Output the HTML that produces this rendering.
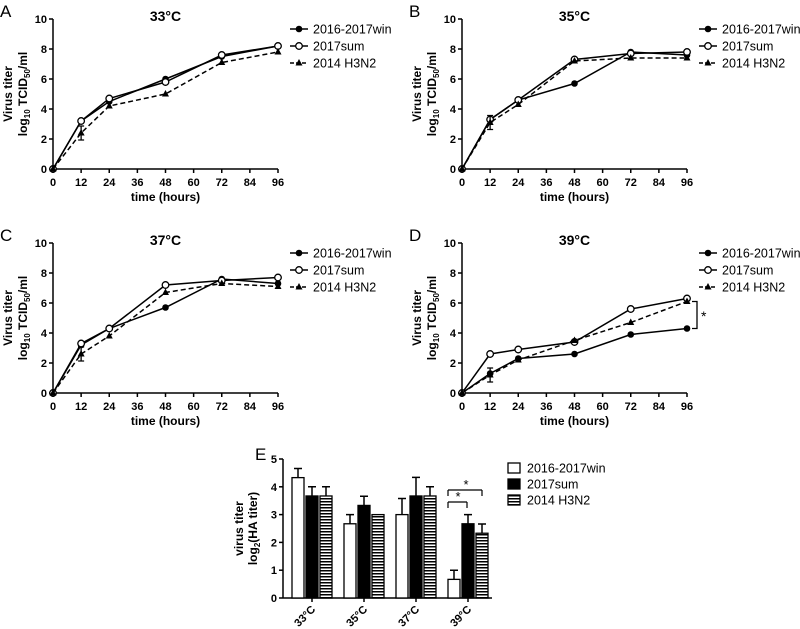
<!DOCTYPE html>
<html><head><meta charset="utf-8"><style>
body{margin:0;background:#fff;}
svg{display:block;font-family:"Liberation Sans",Arial,sans-serif;}
</style></head><body>
<svg id="s" width="800" height="629" viewBox="0 0 800 629"></svg>
<script>
const hours=[0,12,24,48,72,96];
const xTicks=[0,12,24,36,48,60,72,84,96];
const yTicks=[0,2,4,6,8,10];
const seriesNames=["2016-2017win","2017sum","2014 H3N2"];
const aWin=[0,3.2,4.5,6.0,7.5,8.2];
const aSum=[0,3.2,4.7,5.8,7.6,8.2];
const aH3=[0,2.4,4.2,5.0,7.1,7.8];
const bWin=[0,3.3,4.6,5.7,7.8,7.6];
const bSum=[0,3.3,4.6,7.3,7.7,7.8];
const bH3=[0,3.1,4.3,7.2,7.4,7.4];
const cWin=[0,3.2,4.3,5.7,7.6,7.3];
const cSum=[0,3.3,4.3,7.2,7.5,7.7];
const cH3=[0,2.6,3.8,6.7,7.3,7.1];
const dWin=[0,1.3,2.3,2.6,3.9,4.3];
const dSum=[0,2.6,2.9,3.4,5.6,6.3];
const dH3=[0,1.2,2.2,3.5,4.7,6.1];
const eCats=["33°C","35°C","37°C","39°C"];
const eWin=[4.33,2.67,3.0,0.67];
const eSum=[3.67,3.33,3.67,2.67];
const eH3=[3.67,3.0,3.67,2.33];
const eWinErr=[0.33,0.33,0.58,0.33];
const eSumErr=[0.33,0.33,0.67,0.33];
const eH3Err=[0.33,0,0.33,0.33];
const eTicks=[0,1,2,3,4,5];

const S=document.getElementById('s');
const NS="http://www.w3.org/2000/svg";
function el(t,a,p){const e=document.createElementNS(NS,t);for(const k in a)e.setAttribute(k,a[k]);(p||S).appendChild(e);return e;}
function tx(x,y,s,a,p){const e=el('text',Object.assign({x:x,y:y},a),p);e.textContent=s;return e;}
defs=el('defs',{});
const pat=el('pattern',{id:'hs',width:4,height:3,patternUnits:'userSpaceOnUse'},defs);
el('rect',{width:4,height:3,fill:'#fff'},pat);el('rect',{width:4,height:1.5,fill:'#000'},pat);

function panel(ox,oy,letter,title,w,s,h,sig){
 const g=el('g',{});
 
 
 const x0=ox,x1=ox+225,y0=oy+150,y1=oy;
 const X=v=>x0+(v/96)*(x1-x0), Y=v=>y0-(v/10)*(y0-y1);
 const L=tx(ox-53,oy-2,letter,{'font-size':17},g);
 const T=tx((x0+x1)/2,oy+2,title,{'font-size':14,'font-weight':'bold','text-anchor':'middle'},g);
 el('line',{x1:x0,y1:y1,x2:x0,y2:y0,stroke:'#000','stroke-width':1.5},g);
 el('line',{x1:x0,y1:y0,x2:x1,y2:y0,stroke:'#000','stroke-width':1.5},g);
 yTicks.forEach(v=>{el('line',{x1:x0-4,y1:Y(v),x2:x0,y2:Y(v),stroke:'#000','stroke-width':1.5},g);
  const t=tx(x0-6,Y(v)+4,v,{'font-size':11,'font-weight':'bold','text-anchor':'end'},g);});
 xTicks.forEach(v=>{el('line',{x1:X(v),y1:y0,x2:X(v),y2:y0+4,stroke:'#000','stroke-width':1.5},g);
  const t=tx(X(v),y0+17,v,{'font-size':11,'font-weight':'bold','text-anchor':'middle'},g);});
 const xt=tx((x0+x1)/2,y0+32,'time (hours)',{'font-size':12,'font-weight':'bold','text-anchor':'middle'},g);
 const yt=el('text',{transform:`translate(${ox-41},${oy+75}) rotate(-90)`,'font-size':12,'font-weight':'bold','text-anchor':'middle'},g);
 yt.innerHTML='<tspan x="0" y="0">Virus titer</tspan><tspan x="0" y="15">log<tspan font-size="8" dy="3">10</tspan><tspan dy="-3"> TCID</tspan><tspan font-size="8" dy="3">50</tspan><tspan dy="-3">/ml</tspan></tspan>';
 
 const data=[w,s,h];
 data.forEach((d,i)=>{
  const pts=d.map((v,j)=>X(hours[j])+','+Y(v)).join(' ');
  const pl=el('polyline',{points:pts,fill:'none',stroke:'#000','stroke-width':1.5,'stroke-dasharray':i==2?'5,3':'none'},g);
  
  d.forEach((v,j)=>{let m;
   if(i==0)m=el('circle',{cx:X(hours[j]),cy:Y(v),r:3.3,fill:'#000'},g);
   else if(i==1)m=el('circle',{cx:X(hours[j]),cy:Y(v),r:3.3,fill:'#fff',stroke:'#000','stroke-width':1.3},g);
   else{const cx=X(hours[j]),cy=Y(v);m=el('polygon',{points:`${cx},${cy-4} ${cx-3.5},${cy+2.5} ${cx+3.5},${cy+2.5}`,fill:'#000'},g);}
   });
 });
 const ex=X(12),ey=Y(h[1]);
 el('path',{d:`M${ex-3},${ey-7}H${ex+3}M${ex},${ey-7}V${ey+7}M${ex-3},${ey+7}H${ex+3}`,stroke:'#000','stroke-width':1.3,fill:'none'},g);
 seriesNames.forEach((n,i)=>{const ly=oy+10+i*17,lx=x1+21;
  const lg=el('g',{},g);
  el('line',{x1:lx-9,y1:ly,x2:lx+9,y2:ly,stroke:'#000','stroke-width':1.5,'stroke-dasharray':i==2?'4,2':'none'},lg);
  if(i==0)el('circle',{cx:lx,cy:ly,r:3.3,fill:'#000'},lg);
  else if(i==1)el('circle',{cx:lx,cy:ly,r:3.3,fill:'#fff',stroke:'#000','stroke-width':1.3},lg);
  else el('polygon',{points:`${lx},${ly-4} ${lx-3.5},${ly+2.5} ${lx+3.5},${ly+2.5}`,fill:'#000'},lg);
  tx(lx+14,ly+4.5,n,{'font-size':12.5},lg);});
 if(sig){const sx=x1+10,ya=Y(sig[0]),yb=Y(sig[1]);
  el('path',{d:`M${sx-5},${ya}H${sx}V${yb}H${sx-5}`,stroke:'#000','stroke-width':1.3,fill:'none'},g);
  tx(sx+4,(ya+yb)/2+6,'*',{'font-size':14},g);}
}
panel(53,19,'A','33°C',aWin,aSum,aH3);
panel(462,19,'B','35°C',bWin,bSum,bH3);
panel(53,243,'C','37°C',cWin,cSum,cH3);
panel(462,243,'D','39°C',dWin,dSum,dH3,[6.1,4.3]);

(function(){
 const g=el('g',{});
 const x0=283,x1=492,y0=598,y1=459;
 const Y=v=>y0-(v/5)*(y0-y1);
 tx(255,460,'E',{'font-size':17},g);
 el('line',{x1:x0,y1:y1,x2:x0,y2:y0,stroke:'#000','stroke-width':1.5},g);
 el('line',{x1:x0,y1:y0,x2:x1,y2:y0,stroke:'#000','stroke-width':1.5},g);
 eTicks.forEach(v=>{el('line',{x1:x0-4,y1:Y(v),x2:x0,y2:Y(v),stroke:'#000','stroke-width':1.5},g);
  const t=tx(x0-6,Y(v)+4,v,{'font-size':11,'font-weight':'bold','text-anchor':'end'},g);});
 const yt=el('text',{transform:`translate(${x0-40},${(y0+y1)/2}) rotate(-90)`,'font-size':12,'font-weight':'bold','text-anchor':'middle'},g);
 yt.innerHTML='<tspan x="0" y="0">virus titer</tspan><tspan x="0" y="14">log<tspan font-size="8" dy="3">2</tspan><tspan dy="-3">(HA titer)</tspan></tspan>';
 
 const sets=[[eWin,eWinErr,'#fff'],[eSum,eSumErr,'#000'],[eH3,eH3Err,'url(#hs)']];
 const bw=12;
 eCats.forEach((c,ci)=>{const gx=292+ci*52;
  sets.forEach((st,si)=>{const bx=gx+si*14,v=st[0][ci],e=st[1][ci];
   if(e>0)el('path',{d:`M${bx+bw/2},${Y(v)}V${Y(v+e)}M${bx+bw/2-4},${Y(v+e)}H${bx+bw/2+4}`,stroke:'#000','stroke-width':1.5},g);
   const r=el('rect',{x:bx,y:Y(v),width:bw,height:y0-Y(v),fill:st[2],stroke:'#000','stroke-width':1.3},g);
   });
  const cx=gx+20;
  el('line',{x1:cx,y1:y0,x2:cx,y2:y0+4,stroke:'#000','stroke-width':1.5},g);
  const t=tx(cx+4,y0+12,c,{'font-size':11,'font-weight':'bold','text-anchor':'end',transform:`rotate(-45 ${cx+4} ${y0+12})`},g);
  });
 const sg=el('g',{},g);
 el('path',{d:`M448,490V496M448,490H482M482,490V496`,stroke:'#000','stroke-width':1.2,fill:'none'},sg);
 tx(466,489,'*',{'font-size':13,'text-anchor':'middle'},sg);
 el('path',{d:`M448,502V508M448,502H467M467,502V508`,stroke:'#000','stroke-width':1.2,fill:'none'},sg);
 tx(458,501,'*',{'font-size':13,'text-anchor':'middle'},sg);
 const fills=['#fff','#000','url(#hs)'];
 seriesNames.forEach((n,i)=>{const ly=468+i*16;
  const lg=el('g',{},g);
  el('rect',{x:508,y:ly-5,width:12,height:10,fill:fills[i],stroke:'#000','stroke-width':1.3},lg);
  tx(527,ly+4.5,n,{'font-size':12.5},lg);});
})();
</script>
</body></html>
